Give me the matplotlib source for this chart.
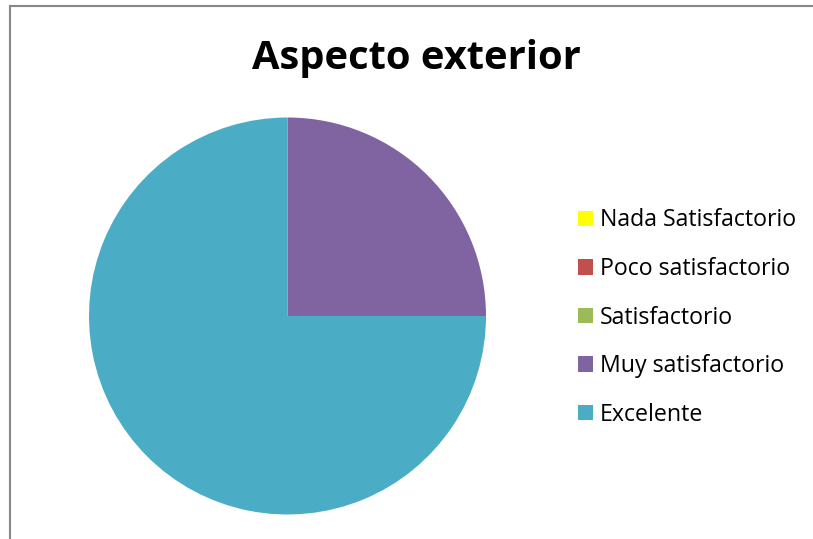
import matplotlib.pyplot as plt
from matplotlib.lines import Line2D

categorias = ["Nada Satisfactorio", "Poco satisfactorio", "Satisfactorio",
              "Muy satisfactorio", "Excelente"]
respuestas = [0, 0, 0, 1, 3]
colores = ["#FFFF00", "#C0504D", "#9BBB59", "#8064A2", "#4BACC6"]

plt.rcParams['font.family'] = ['Open Sans', 'DejaVu Sans']

W, H = 813, 539
fig = plt.figure(figsize=(W / 100, H / 100), dpi=100)

# pie area: center (287, 316) px, radius ~198 px
cx, cy, r = 287.5, 316, 198.5
ax = fig.add_axes([(cx - r) / W, (H - cy - r) / H, 2 * r / W, 2 * r / H])
wedges, _ = ax.pie(respuestas, colors=colores, startangle=90,
                   counterclock=False, radius=1,
                   wedgeprops=dict(linewidth=0))
ax.set_xlim(-1, 1)
ax.set_ylim(-1, 1)
ax.set_aspect('equal')
ax.axis('off')

fig.text(416.5 / W, 1 - 58 / H, "Aspecto exterior", ha='center', va='center',
         fontsize=28.7, fontweight='bold')

fig.legend(wedges, categorias, loc='upper left',
           bbox_to_anchor=(578 / W, 1 - 208.5 / H), frameon=False,
           fontsize=16.7, handlelength=0.65, handleheight=0.65,
           handletextpad=0.3, labelspacing=1.06, borderpad=0, borderaxespad=0)

# outer chart border (only left and top edges fall inside the image)
fig.add_artist(Line2D([9.5 / W, 9.5 / W], [0, 1 - 5.5 / H],
                      transform=fig.transFigure, color='#888888', lw=1.5))
fig.add_artist(Line2D([9.5 / W, 1], [1 - 5.5 / H, 1 - 5.5 / H],
                      transform=fig.transFigure, color='#888888', lw=1.5))

fig.savefig("out.png", dpi=100)
